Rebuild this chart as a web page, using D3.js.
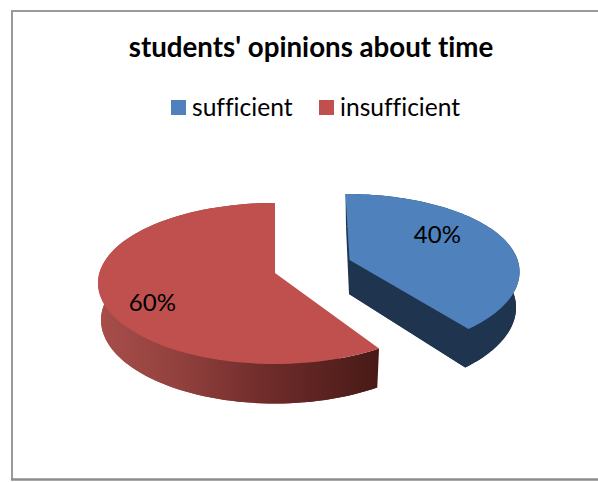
<!DOCTYPE html>
<html><head><meta charset="utf-8">
<script src="https://cdn.jsdelivr.net/npm/d3@7"></script>
<style>html,body{margin:0;padding:0;background:#fff}svg{display:block}text{font-family:Lato,"Open Sans",sans-serif;fill:#000;font-variant-ligatures:none}</style>
</head><body><svg id="c" width="598" height="482"></svg>
<script>
const categories = ["sufficient", "insufficient"];
const values = [40, 60];
const chartTitle = "students' opinions about time";
const topColors = ["#4f81bd", "#c0504d"];

// view parameters per slice: a tilted, slightly perspective disc
const views = [
  {top:{cx:349.5,cy:260,R:170,Ry:78.7,py:.035,shear:4,rimDy:10,k:.951},
   bot:{cx:349,cy:294,R:167,Ry:82,py:.035,shear:3,rimDy:12,k:.951}},
  {top:{cx:275,cy:273,R:177,Ry:80.5,py:.006,shear:0,rimDy:10,k:1},
   bot:{cx:275,cy:310,R:174,Ry:83,py:.006,shear:0,rimDy:10,k:1}}
];
const svg = d3.select("#c");
const defs = svg.append("defs");
const g = defs.append("linearGradient").attr("id","redWall").attr("gradientUnits","userSpaceOnUse")
  .attr("x1",98).attr("x2",378).attr("y1",0).attr("y2",0);
[[0,"#a84e4b"],[.3,"#91403d"],[.6,"#6f2c2a"],[1,"#481a17"]].forEach(([o,c])=>g.append("stop").attr("offset",o).attr("stop-color",c));
const wallFill = ["#1f344f","url(#redWall)"];

function project(v,a,r){
  const u=Math.sin(a*v.k)*r, w=-Math.cos(a*v.k)*r;
  return [v.cx+v.R*u+v.shear*w, v.cy+v.rimDy*r+v.Ry*w/(1-v.py*w)];
}
const pie = d3.pie().sort(null).value(d=>d);
const arcs = pie(values);
const line = d3.line();
function arcPts(v,a){
  const n=90;
  return d3.range(n+1).map(i=>project(v,a.startAngle+(a.endAngle-a.startAngle)*i/n,1));
}
function sector(v,a){ return [project(v,0,0)].concat(arcPts(v,a)); }
// frame
svg.append("path").attr("d",line([[12,480],[12,11],[598,11]])).attr("fill","none").attr("stroke","#9a9a9a").attr("stroke-width",2);
svg.append("path").attr("d",line([[11,479.5],[598,479.5]])).attr("fill","none").attr("stroke","#8c8c8c").attr("stroke-width",2.5);

arcs.forEach((a,i)=>{
  const vw=views[i];
  const G=svg.append("g");
  const f=wallFill[i];
  G.append("path").attr("d",line(sector(vw.bot,a))+"Z").attr("fill",f);
  const t=arcPts(vw.top,a), b=arcPts(vw.bot,a);
  const bc=b[b.length-1];
  G.append("path").attr("d",line(t.concat(b.slice().reverse()))+"Z").attr("fill",f);
  if(i===0){
    const ta=project(vw.top,0,0), ba=project(vw.bot,0,0), tc=t[t.length-1];
    G.append("path").attr("d",line([ta,tc,bc,ba])+"Z").attr("fill",f);
  }
  G.append("path").attr("d",line(sector(vw.top,a))+"Z").attr("fill",topColors[i]);
});

// labels
const labelPos=[{a:.386,r:.66},{a:.479,r:.75}];
arcs.forEach((a,i)=>{
  const mid=a.startAngle+(a.endAngle-a.startAngle)*labelPos[i].a;
  const p=project(views[i].top,mid,labelPos[i].r);
  svg.append("text").attr("x",p[0]).attr("y",p[1]+1).attr("text-anchor","middle").attr("dominant-baseline","middle")
    .attr("font-size",24).text(values[i]+"%");
});
svg.append("text").attr("x",311).attr("y",57).attr("text-anchor","middle").attr("font-size",27.7).attr("font-weight",700).text(chartTitle);
const legendX=d3.scaleOrdinal().domain(categories).range([171,319]);
categories.forEach((c,i)=>{
  svg.append("rect").attr("x",legendX(c)).attr("y",100).attr("width",15).attr("height",15).attr("fill",topColors[i]);
  svg.append("text").attr("x",legendX(c)+21).attr("y",116).attr("font-size",24.6).text(c);
});
</script></body></html>
